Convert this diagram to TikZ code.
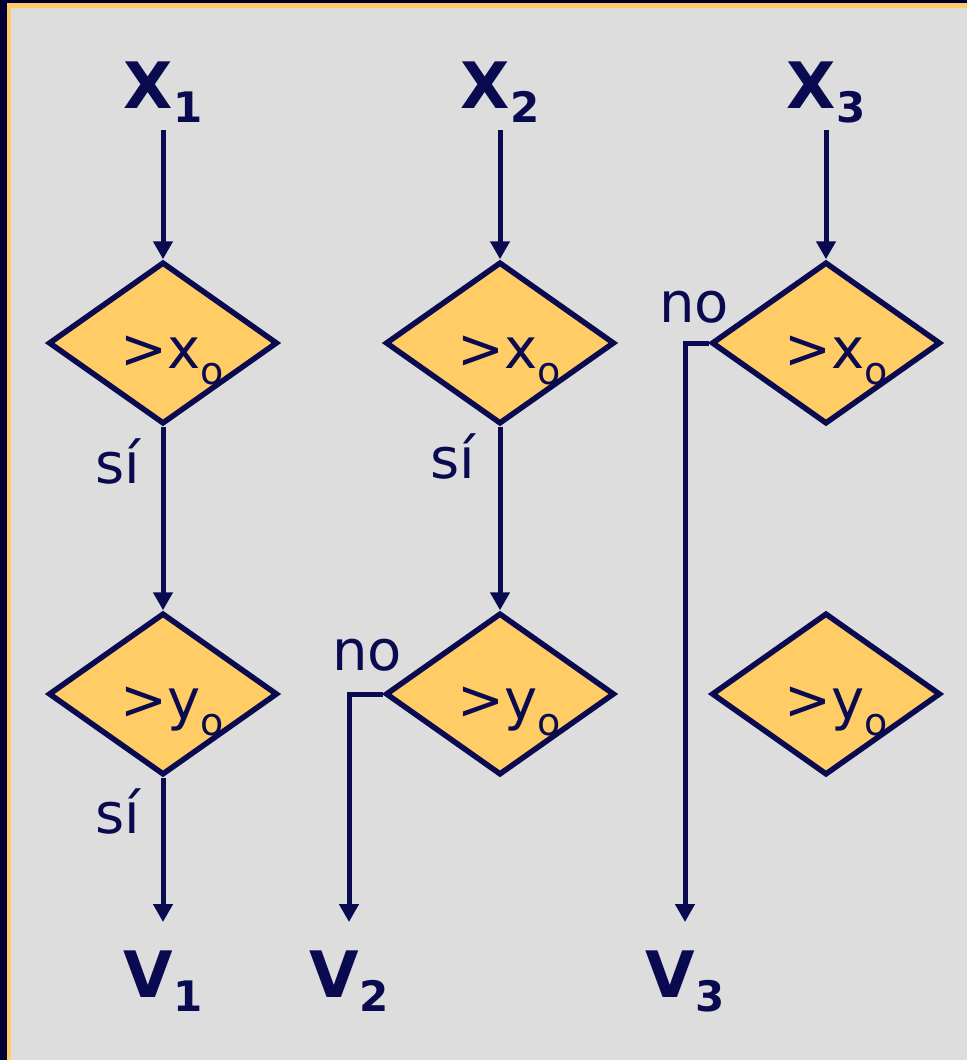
\documentclass[tikz,border=0pt]{standalone}
\usepackage{fontspec}
\setmainfont{DejaVu Sans}
\usetikzlibrary{shapes.geometric,arrows.meta}
\definecolor{navy}{RGB}{10,10,80}
\definecolor{darknavy}{RGB}{0,0,51}
\definecolor{gold}{RGB}{255,204,102}
\definecolor{bggray}{RGB}{221,221,221}
\newcommand\lowsub[1]{\raisebox{-14pt}{\fontsize{42}{42}\selectfont #1}}
\newcommand\dsub[1]{\raisebox{-16pt}{\fontsize{38}{38}\selectfont #1}}
\begin{document}
\begin{tikzpicture}[x=1pt,y=-1pt,
  dia/.style={diamond, draw=navy, fill=gold, line width=5.5pt, minimum width=229pt, minimum height=162pt, inner sep=0pt},
  arr/.style={draw=navy, line width=5pt, -{Triangle[width=19pt,length=18pt]}},
  big/.style={text=navy, font=\fontsize{64}{70}\selectfont\bfseries, anchor=base, inner sep=0pt},
  lab/.style={text=navy, font=\fontsize{56}{60}\selectfont, anchor=base, inner sep=0pt},
]
\useasboundingbox (0,0) rectangle (967,1060);
\fill[bggray] (0,0) rectangle (967,1060);
\fill[gold] (7,3) rectangle (11,1060);
\fill[gold] (7,3) rectangle (967,8);
\fill[darknavy] (0,0) rectangle (7,1060);
\fill[darknavy] (0,0) rectangle (967,3);

% top and bottom labels
\node[big] (x1) at (163,108) {X\lowsub{1}};
\node[big] (x2) at (500,108) {X\lowsub{2}};
\node[big] (x3) at (826,108) {X\lowsub{3}};
\node[big] (v1) at (163,997) {V\lowsub{1}};
\node[big] (v2) at (349,997) {V\lowsub{2}};
\node[big] (v3) at (685,997) {V\lowsub{3}};

% diamonds
\node[dia] (d11) at (163,343) {};
\node[dia] (d12) at (163,694) {};
\node[dia] (d21) at (500,343) {};
\node[dia] (d22) at (500,694) {};
\node[dia] (d31) at (826,343) {};
\node[dia] (d32) at (826,694) {};

% diamond texts
\node[lab] (t11) at (172,368) {>x\dsub{o}};
\node[lab] (t12) at (172,719) {>y\dsub{o}};
\node[lab] (t21) at (509,368) {>x\dsub{o}};
\node[lab] (t22) at (509,719) {>y\dsub{o}};
\node[lab] (t31) at (836,368) {>x\dsub{o}};
\node[lab] (t32) at (836,719) {>y\dsub{o}};

% connector ends
\coordinate (x1s) at (163,130);
\coordinate (x2s) at (500,130);
\coordinate (x3s) at (826,130);
\coordinate (v1a) at (163,922);
\coordinate (v2a) at (349,922);
\coordinate (v3a) at (685,922);

% connectors
\draw[arr] (x1s) -- (d11.north);
\draw[arr] (d11.south) -- (d12.north);
\draw[arr] (d12.south) -- (v1a);
\draw[arr] (x2s) -- (d21.north);
\draw[arr] (d21.south) -- (d22.north);
\draw[arr] (d22.west) -| (v2a);
\draw[arr] (x3s) -- (d31.north);
\draw[arr] (d31.west) -| (v3a);

% branch labels
\node[lab] (s1) at (118,483) {sí};
\node[lab] (s2) at (118,833) {sí};
\node[lab] (s3) at (453,478) {sí};
\node[lab] (n1) at (367,670) {no};
\node[lab] (n2) at (694,322) {no};
\end{tikzpicture}
\end{document}
